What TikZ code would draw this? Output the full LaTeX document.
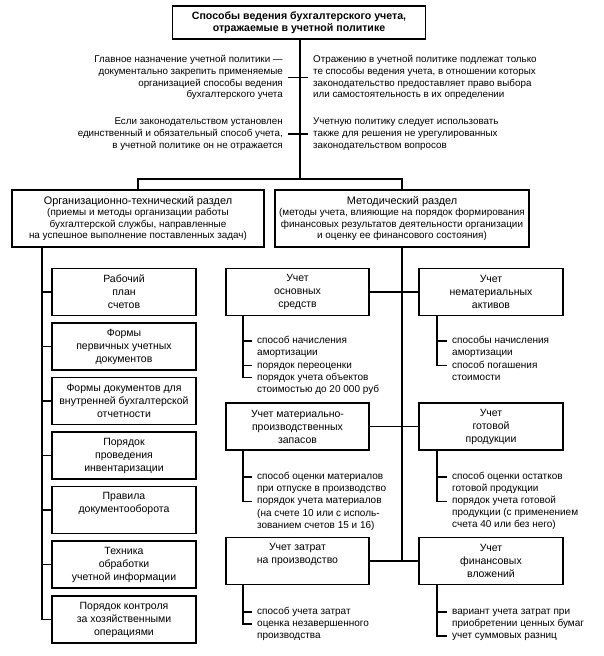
\documentclass[tikz,border=0pt]{standalone}
\usepackage{fontspec}
\setmainfont{Liberation Sans}
\begin{document}
\begin{tikzpicture}[x=1pt,y=-1pt,
  conn/.style={draw, line width=1.1pt},
  topbox/.style={draw, line width=1.5pt, inner sep=0pt, minimum width=253pt, minimum height=33pt, align=center, font=\bfseries\fontsize{10.6}{12}\selectfont},
  secbox/.style={draw, line width=1.2pt, inner sep=0pt, minimum height=57pt, align=center, font=\fontsize{9.9}{11.4}\selectfont},
  box/.style={draw, line width=1.2pt, inner sep=0pt, minimum width=144pt, minimum height=47pt, align=center, font=\fontsize{10.5}{13}\selectfont},
  para/.style={inner sep=0pt, font=\fontsize{9.8}{11.8}\selectfont},
  bl/.style={anchor=base west, inner sep=0pt, text height=7pt, text depth=2pt, font=\fontsize{10}{12}\selectfont}
]
\useasboundingbox (0,0) rectangle (603,656);
\fill[white] (0,0) rectangle (603,656);

% top
\node[topbox] (top) at (299,22.5) {Способы ведения бухгалтерского учета,\\отражаемые в учетной политике};
\coordinate (bar) at (300,179);
\draw[conn] (bar |- top.south) -- (bar);

\node[para, anchor=east, align=right] (pl1) at (283,77.5) {Главное назначение учетной политики —\\документально закрепить применяемые\\организацией способы ведения\\бухгалтерского учета};
\node[para, anchor=west, align=left] (pr1) at (313,77.5) {Отражению в учетной политике подлежат только\\те способы ведения учета, в отношении которых\\законодательство предоставляет право выбора\\или самостоятельность в их определении};
\node[para, anchor=east, align=right] (pl2) at (283,134) {Если законодательством установлен\\единственный и обязательный способ учета,\\в учетной политике он не отражается};
\node[para, anchor=west, align=left] (pr2) at (313,134) {Учетную политику следует использовать\\также для решения не урегулированных\\законодательством вопросов};
\draw[conn] ([xshift=5pt]pl1.east) -- ([xshift=-5pt]pr1.west);
\draw[conn] ([xshift=5pt]pl2.east) -- ([xshift=-5pt]pr2.west);

% sections
\node[secbox, minimum width=252pt] (org) at (138,218.5) {{\fontsize{10.9}{11.4}\selectfont Организационно-технический раздел}\\(приемы и методы организации работы\\бухгалтерской службы, направленные\\на успешное выполнение поставленных задач)};
\node[secbox, minimum width=254pt] (met) at (402,218.5) {{\fontsize{10.9}{11.4}\selectfont Методический раздел}\\(методы учета, влияющие на порядок формирования\\финансовых результатов деятельности организации\\и оценку ее финансового состояния)};
\coordinate (barL) at (138,179);
\draw[conn] (org.north) -- (barL) -| (met.north);

% left column
\node[box] (b1) at (124,292) {Рабочий\\план\\счетов};
\node[box] (b2) at (124,346.5) {Формы\\первичных учетных\\документов};
\node[box] (b3) at (124,401) {Формы документов для\\внутренней бухгалтерской\\отчетности};
\node[box] (b4) at (124,455.5) {Порядок\\проведения\\инвентаризации};
\node[box] (b5) at (124,510) {Правила\\документооборота\\\phantom{Ру}};
\node[box] (b6) at (124,564.5) {Техника\\обработки\\учетной информации};
\node[box] (b7) at (124,619.5) {Порядок контроля\\за хозяйственными\\операциями};
\coordinate (lend) at (42,619.5);
\draw[conn] (lend |- org.south) -- (lend) -- (b7.west);
\foreach \b in {b1,b2,b3,b4,b5,b6}
  \draw[conn] (lend |- \b.west) -- (\b.west);

% middle and right columns
\node[box, minimum width=143pt] (m1) at (297.5,292) {Учет\\основных\\средств};
\node[box, minimum width=143pt] (m2) at (297.5,426.5) {Учет материально-\\производственных\\запасов};
\node[box, minimum width=143pt] (m3) at (297.5,561) {Учет затрат\\на производство\\\phantom{Ру}};
\node[box] (r1) at (491,292) {Учет\\нематериальных\\активов};
\node[box] (r2) at (491,426.5) {Учет\\готовой\\продукции};
\node[box] (r3) at (491,561) {Учет\\финансовых\\вложений};
\coordinate (mend) at (402,561);
\draw[conn] (met.south) -- (mend);
\draw[conn] (m1.east) -- (r1.west);
\draw[conn] (m2.east) -- (r2.west);
\draw[conn] (m3.east) -- (r3.west);

% bullet lists
\foreach \t [count=\i from 0] in {способ начисления, амортизации, порядок переоценки, порядок учета объектов, стоимостью до 20 000 руб}
  \node[bl] (ma\i) at (257,343.5+12.3*\i) {\t};
\foreach \t [count=\i from 0] in {способы начисления, амортизации, способ погашения, стоимости}
  \node[bl] (ra\i) at (452,343.5+12.3*\i) {\t};
\foreach \t [count=\i from 0] in {способ оценки материалов, при отпуске в производство, порядок учета материалов, {(на счете 10 или с исполь-}, зованием счетов 15 и 16)}
  \node[bl] (mb\i) at (257,479.5+12.2*\i) {\t};
\foreach \t [count=\i from 0] in {способ оценки остатков, готовой продукции, порядок учета готовой, продукции (с применением, счета 40 или без него)}
  \node[bl] (rb\i) at (452,479.5+12.1*\i) {\t};
\foreach \t [count=\i from 0] in {способ учета затрат, оценка незавершенного, производства}
  \node[bl] (mc\i) at (257,614.5+12*\i) {\t};
\foreach \t [count=\i from 0] in {вариант учета затрат при, приобретении ценных бумаг, учет суммовых разниц}
  \node[bl] (rc\i) at (452,614.5+12*\i) {\t};

\coordinate (mx) at (243,0);
\coordinate (rx) at (437,0);
\draw[conn] (mx |- m1.south) -- (mx |- ma3.west) -- ([xshift=-5pt]ma3.west);
\draw[conn] (mx |- ma0.west) -- ([xshift=-5pt]ma0.west);
\draw[conn] (mx |- ma2.west) -- ([xshift=-5pt]ma2.west);
\draw[conn] (rx |- r1.south) -- (rx |- ra2.west) -- ([xshift=-5pt]ra2.west);
\draw[conn] (rx |- ra0.west) -- ([xshift=-5pt]ra0.west);
\draw[conn] (mx |- m2.south) -- (mx |- mb2.west) -- ([xshift=-5pt]mb2.west);
\draw[conn] (mx |- mb0.west) -- ([xshift=-5pt]mb0.west);
\draw[conn] (rx |- r2.south) -- (rx |- rb2.west) -- ([xshift=-5pt]rb2.west);
\draw[conn] (rx |- rb0.west) -- ([xshift=-5pt]rb0.west);
\draw[conn] (mx |- m3.south) -- (mx |- mc1.west) -- ([xshift=-5pt]mc1.west);
\draw[conn] (mx |- mc0.west) -- ([xshift=-5pt]mc0.west);
\draw[conn] (rx |- r3.south) -- (rx |- rc2.west) -- ([xshift=-5pt]rc2.west);
\draw[conn] (rx |- rc0.west) -- ([xshift=-5pt]rc0.west);
\end{tikzpicture}
\end{document}
